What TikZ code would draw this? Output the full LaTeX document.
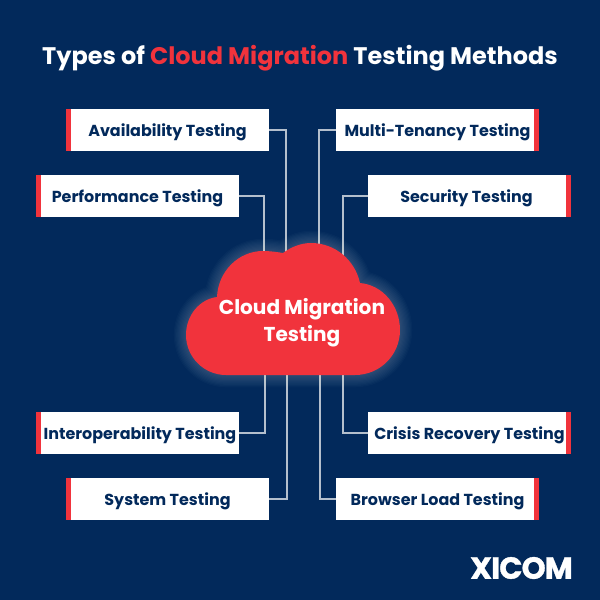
\documentclass[tikz,border=0pt]{standalone}
\usepackage{fontspec}
\setmainfont{Poppins}
\definecolor{navy}{HTML}{02295B}
\definecolor{cloudred}{HTML}{F1333C}
\definecolor{linkgrey}{HTML}{B4BFCD}
\tikzset{
  testbox/.style={fill=white, minimum width=4.06cm, minimum height=0.84cm, inner sep=0pt,
    text height=8pt, text depth=1.1pt,
    text=navy, font=\bfseries\fontsize{9.07}{11}\selectfont},
  redbar/.style={fill=cloudred},
  link/.style={draw=linkgrey, line width=0.7pt},
}
\newcommand{\cloudpath}{(226,375)
    .. controls (204,375) and (186,357) .. (186,335)
    .. controls (186,315) and (200,299) .. (217,297)
    .. controls (218,272) and (238,251) .. (263,251)
    .. controls (270,251) and (277,252) .. (283,253)
    .. controls (291,247) and (301,243) .. (311,243)
    .. controls (335,243) and (355,260) .. (360,283)
    .. controls (383,285) and (400,306) .. (400,330)
    .. controls (400,355) and (380,375) .. (355,375) -- cycle}
\begin{document}
\begin{tikzpicture}[x=0.02cm, y=-0.02cm]
  \fill[navy] (0,0) rectangle (600,600);
  \useasboundingbox (0,0) rectangle (600,600);
  % title
  \node[font=\bfseries\fontsize{13.65}{16}\selectfont, text=white] (title) at (300,58.5)
    {Types of \textcolor{cloudred}{Cloud Migration} Testing Methods};
  % boxes on the left
  \node[testbox] (avail) at (167.5,130) {Availability Testing};
  \node[testbox] (perf) at (137.5,196) {Performance Testing};
  \node[testbox] (interop) at (137.5,433) {\hspace*{2.8pt}Interoperability Testing};
  \node[testbox] (systest) at (167.5,499) {System Testing};
  % boxes on the right
  \node[testbox] (multi) at (437.5,130) {Multi-Tenancy Testing};
  \node[testbox] (secure) at (469.5,196) {Security Testing\hspace*{3.4pt}};
  \node[testbox] (crisis) at (469.5,433) {Crisis Recovery Testing};
  \node[testbox] (browser) at (437.5,499) {Browser Load Testing};
  \foreach \b in {avail,perf,interop,systest}
    \fill[redbar] (\b.north west) rectangle ([xshift=0.1cm]\b.south west);
  \foreach \b in {multi,secure,crisis,browser}
    \fill[redbar] (\b.north east) rectangle ([xshift=-0.1cm]\b.south east);
  % where the lines enter the cloud
  \coordinate (availend) at (286,262);
  \coordinate (perfend) at (264,262);
  \coordinate (multiend) at (319,262);
  \coordinate (secureend) at (343,270);
  \coordinate (interopend) at (265,365);
  \coordinate (sysend) at (287,365);
  \coordinate (crisisend) at (343,365);
  \coordinate (browserend) at (320,365);
  \draw[link] (avail.east) -| (availend);
  \draw[link] (perf.east) -| (perfend);
  \draw[link] (multi.west) -| (multiend);
  \draw[link] (secure.west) -| (secureend);
  \draw[link] (interop.east) -| (interopend);
  \draw[link] (systest.east) -| (sysend);
  \draw[link] (crisis.west) -| (crisisend);
  \draw[link] (browser.west) -| (browserend);
  % cloud with its glow
  \foreach \w in {1,...,10}
    \draw[white, opacity=0.02, line width=\w*1.4pt, line join=round] \cloudpath;
  \fill[cloudred] \cloudpath;
  \node[align=center, text=white, font=\bfseries\fontsize{11.43}{15.3}\selectfont] (cloudtext) at (302,323)
    {Cloud Migration\\Testing};
  % logo
  \node[text=white, font=\bfseries\fontsize{17.4}{20}\selectfont\addfontfeatures{LetterSpace=-3,FakeBold=1}, inner sep=0pt] (logo) at (521.5,568) {XICOM};
\end{tikzpicture}
\end{document}
